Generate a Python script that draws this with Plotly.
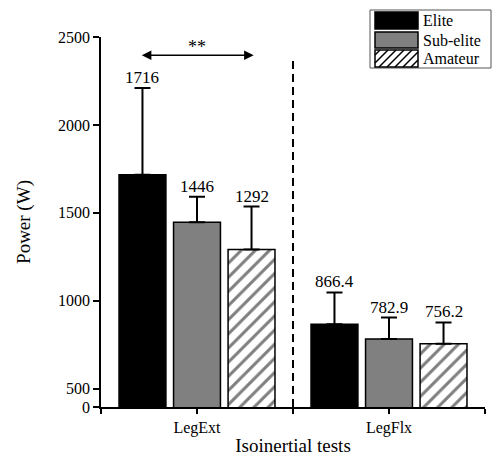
import plotly.graph_objects as go

# ---- data ----
categories = ["LegExt", "LegFlx"]
groups = ["Elite", "Sub-elite", "Amateur"]
elite_mean = [1716, 866.4]
elite_sd = [494, 181]
subelite_mean = [1446, 782.9]
subelite_sd = [146, 122]
amateur_mean = [1292, 756.2]
amateur_sd = [244, 121]
y_tick_vals = [396, 500, 1000, 1500, 2000, 2500]
y_tick_text = ["0", "500", "1000", "1500", "2000", "2500"]

means = [elite_mean, subelite_mean, amateur_mean]
sds = [elite_sd, subelite_sd, amateur_sd]
colors = ["#000000", "#808080", "#ffffff"]
patterns = ["", "", "/"]

FONT = "Liberation Serif, Times New Roman, serif"
BARGAP = 0.148
BARGROUPGAP = 0.14
W = (1 - BARGAP) / 3
xpos = list(range(len(categories)))

fig = go.Figure()
for i, g in enumerate(groups):
    fig.add_trace(go.Bar(
        x=xpos, y=means[i], name=g,
        marker=dict(color=colors[i], line=dict(color="black", width=1.5),
                    pattern=dict(shape=patterns[i], fgcolor="black", bgcolor="white",
                                 size=10, solidity=0.3) if patterns[i] else None),
        error_y=dict(type="data", symmetric=False, array=sds[i], arrayminus=[0] * len(xpos),
                     color="black", thickness=2, width=8),
        showlegend=False, hoverinfo="skip",
    ))

annotations = []
for i, g in enumerate(groups):
    for j, c in enumerate(xpos):
        v = means[i][j]
        annotations.append(dict(
            x=c + (i - 1) * W, y=v + sds[i][j], text=f"{v:g}", showarrow=False,
            yanchor="bottom", xanchor="center", yshift=-1,
            font=dict(family=FONT, size=17, color="black")))

# significance arrow
annotations.append(dict(x=xpos[0] + W * 1.04, y=2396, ax=xpos[0] - W * 1.04, ay=2396,
                        axref="x", ayref="y", xref="x", yref="y", text="",
                        showarrow=True, arrowhead=2, arrowside="end+start",
                        arrowsize=1.2, arrowwidth=1.6, arrowcolor="black"))
annotations.append(dict(x=xpos[0], y=2396, text="**", showarrow=False, yanchor="bottom",
                        yshift=-4, font=dict(family=FONT, size=18, color="black")))

# ---- manual legend (pixel -> paper conversion) ----
L, T, PW, PH = 101, 37, 384, 370
def px(x):
    return (x - L) / PW
def py(y):
    return (T + PH - y) / PH

shapes = []
shapes.append(dict(type="line", xref="x", yref="y", x0=0.5, x1=0.5, y0=396, y1=2386,
                   line=dict(color="black", width=2, dash="8px,5px")))
shapes.append(dict(type="rect", xref="paper", yref="paper", x0=px(370), x1=px(491),
                   y0=py(68), y1=py(10), line=dict(color="#555555", width=1),
                   fillcolor="white", layer="above"))
sw = [(12, 29), (32, 48), (50, 67)]
SL, SR = 375, 418
for i, g in enumerate(groups):
    t, b = sw[i]
    shapes.append(dict(type="rect", xref="paper", yref="paper", x0=px(SL), x1=px(SR),
                       y0=py(b), y1=py(t), fillcolor=colors[i],
                       line=dict(color="black", width=1.5), layer="above"))
    if patterns[i]:
        path = ""
        c = SL + t + 5
        while c < SR + b:
            xa = max(SL, c - b); xb = min(SR, c - t)
            if xb > xa:
                path += f"M{px(xa)},{py(c - xa)} L{px(xb)},{py(c - xb)} "
            c += 8
        shapes.append(dict(type="path", xref="paper", yref="paper", path=path,
                           line=dict(color="black", width=1.5), layer="above"))
    annotations.append(dict(xref="paper", yref="paper", x=px(421), y=py((t + b) / 2),
                            text=g, showarrow=False, xanchor="left", yanchor="middle",
                            font=dict(family=FONT, size=16, color="black")))

fig.update_layout(
    width=492, height=461,
    margin=dict(l=L, r=492 - L - PW, t=T, b=461 - T - PH, pad=0),
    paper_bgcolor="white", plot_bgcolor="white",
    barmode="group", bargap=BARGAP, bargroupgap=BARGROUPGAP,
    font=dict(family=FONT, color="black"),
    xaxis=dict(range=[-0.5, 1.5], tickvals=[-0.5, 0, 0.5, 1, 1.5],
               ticktext=["", categories[0], "", categories[1], ""],
               showline=True, linecolor="black", linewidth=1.5,
               ticks="outside", ticklen=5, tickwidth=1.5, tickcolor="black",
               showgrid=False, zeroline=False,
               tickfont=dict(family=FONT, size=16),
               title=dict(text="Isoinertial tests", font=dict(family=FONT, size=19), standoff=3)),
    yaxis=dict(range=[396, 2500], tickvals=y_tick_vals, ticktext=y_tick_text,
               showline=True, linecolor="black", linewidth=1.5,
               ticks="outside", ticklen=6, tickwidth=1.5, tickcolor="black",
               showgrid=False, zeroline=False,
               tickfont=dict(family=FONT, size=16),
               title=dict(text="Power (W)", font=dict(family=FONT, size=19), standoff=22)),
    annotations=annotations, shapes=shapes,
)

fig.write_html("out.html", config={"displayModeBar": False},
               post_script="document.body.style.margin='0';document.body.style.overflow='hidden';")
